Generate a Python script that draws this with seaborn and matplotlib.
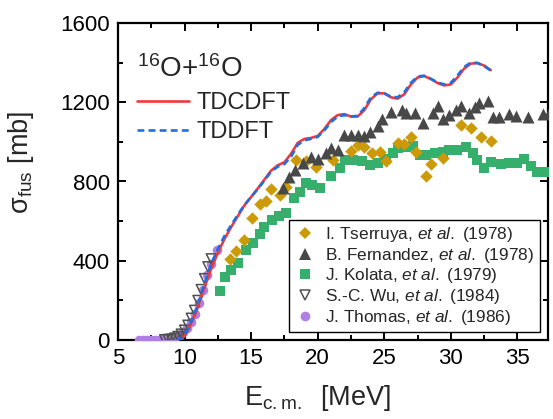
import matplotlib
matplotlib.use("Agg")
import matplotlib.pyplot as plt
import seaborn as sns
from matplotlib.lines import Line2D
from matplotlib.ticker import MultipleLocator

# ---------------- data ----------------
tdcdft_e = [9.5, 9.8, 10.0, 10.3, 10.6, 11.0, 11.5, 12.0, 12.5, 13.0, 13.5, 14.0, 14.5, 15.0,
            15.5, 16.0, 16.5, 17.0, 17.5, 18.0, 18.5, 19.0, 19.5, 20.0, 20.5, 21.0, 21.5,
            22.0, 22.5, 23.0, 23.5, 24.0, 24.5, 25.0, 25.5, 26.0, 26.5, 27.0, 27.5, 28.0,
            28.5, 29.0, 29.5, 30.0, 30.5, 31.0, 31.5, 32.0, 32.5, 33.0]
tdcdft_s = [0, 5, 20, 55, 100, 170, 265, 360, 440, 510, 570, 625, 680, 722,
            765, 810, 855, 882, 897, 940, 995, 1015, 1020, 1030, 1065, 1110, 1135,
            1140, 1128, 1128, 1160, 1215, 1245, 1245, 1225, 1218, 1240, 1290, 1325, 1332,
            1318, 1297, 1285, 1290, 1325, 1370, 1395, 1398, 1385, 1362]
tddft_e = [9.4, 9.7, 10.0, 10.3, 10.6, 11.0, 11.5, 12.0, 12.5, 13.0, 13.5, 14.0, 14.5, 15.0,
           15.5, 16.0, 16.5, 17.0, 17.5, 18.0, 18.5, 19.0, 19.5, 20.0, 20.5, 21.0, 21.5,
           22.0, 22.5, 23.0, 23.5, 24.0, 24.5, 25.0, 25.5, 26.0, 26.5, 27.0, 27.5, 28.0,
           28.5, 29.0, 29.5, 30.0, 30.5, 31.0, 31.5, 32.0, 32.5, 33.0]
tddft_s = [0, 6, 24, 62, 110, 180, 285, 385, 460, 525, 580, 632, 682, 722,
           762, 805, 850, 875, 888, 925, 985, 1008, 1015, 1025, 1058, 1100, 1128,
           1135, 1128, 1132, 1170, 1225, 1248, 1245, 1228, 1225, 1250, 1298, 1330, 1334,
           1318, 1300, 1290, 1298, 1335, 1378, 1400, 1398, 1383, 1360]

tserruya_e = [13.4, 13.9, 14.5, 15.05, 15.65, 16.15, 16.5, 17.15, 17.65, 18.4, 19.15, 19.9,
              21.15, 22.5, 23.0, 23.5, 24.05, 24.65, 25.1, 26.0, 26.5, 27.0, 27.4, 28.1,
              28.5, 29.4, 30.8, 31.5, 32.3, 33.05]
tserruya_s = [410, 450, 505, 615, 685, 700, 763, 730, 774, 909, 905, 875,
              906, 955, 983, 976, 943, 948, 905, 995, 988, 1027, 950, 829,
              890, 917, 1083, 1070, 1025, 1002]

fernandez_e = [17.4, 17.85, 18.3, 18.9, 19.5, 20.0, 20.65, 21.0, 21.5, 22.0, 22.5, 23.0, 23.5,
               23.9, 24.5, 24.8, 25.5, 26.3, 26.65, 27.3, 27.9, 28.65, 29.0, 29.4, 29.9,
               30.4, 30.8, 31.4, 31.8, 32.15, 32.8, 33.15, 33.65, 34.4, 34.9, 35.8, 36.9, 37.4]
fernandez_s = [766, 821, 858, 892, 926, 912, 942, 968, 959, 1035, 1035, 1035, 1030,
               1052, 1080, 1114, 1150, 1161, 1145, 1145, 1094, 1145, 1181, 1114, 1136,
               1161, 1181, 1148, 1178, 1195, 1207, 1128, 1124, 1141, 1131, 1124, 1141, 1145]

kolata_e = [12.65, 13.0, 13.5, 14.0, 14.65, 15.15, 15.7, 16.0, 16.6, 17.1, 17.6, 18.25, 18.7,
            19.1, 19.6, 20.15, 21.0, 21.65, 22.05, 22.65, 23.3, 23.9, 24.5, 25.15, 25.65,
            26.0, 26.65, 27.15, 27.65, 28.15, 28.8, 29.4, 29.9, 30.5, 31.15, 31.65, 32.0,
            32.5, 33.0, 33.8, 34.4, 35.0, 35.5, 36.0, 36.5, 37.15]
kolata_s = [249, 316, 353, 387, 454, 488, 535, 572, 606, 628, 643, 716, 746,
            791, 780, 768, 826, 870, 909, 909, 905, 884, 892, 912, 946,
            968, 976, 981, 934, 934, 942, 951, 959, 959, 976, 942, 909,
            867, 900, 889, 895, 892, 912, 878, 850, 850]

wu_e = [8.5, 8.75, 9.0, 9.25, 9.5, 9.75, 10.0, 10.25, 10.5, 10.75, 11.0, 11.25, 11.5, 11.75, 12.0]
wu_s = [2, 3, 5, 10, 18, 30, 50, 75, 110, 150, 200, 255, 310, 370, 410]

thomas_e = [6.6, 6.9, 7.2, 7.5, 7.8, 8.1, 8.4, 8.7, 9.0, 9.3, 9.6, 9.9, 10.2, 10.5, 10.8,
            11.1, 11.4, 11.7, 12.0, 12.4]
thomas_s = [0, 0, 1, 1, 1, 2, 3, 5, 8, 14, 24, 40, 62, 92, 130,
            185, 250, 330, 385, 455]

x_ticks = [5, 10, 15, 20, 25, 30, 35]
y_ticks = [0, 400, 800, 1200, 1600]

# ---------------- style ----------------
sns.set_style("ticks")
plt.rcParams['font.family'] = ['Liberation Sans', 'DejaVu Sans']
plt.rcParams['mathtext.fontset'] = 'custom'
plt.rcParams['mathtext.rm'] = 'Liberation Sans'
plt.rcParams['mathtext.it'] = 'Liberation Sans:italic'
plt.rcParams['mathtext.bf'] = 'Liberation Sans:bold'

RED = '#f0393c'
BLUE = '#1f6fe0'
GOLD = '#cc9a06'
GRAY = '#484848'
GREEN = '#36ae6c'
PURPLE = '#b07fe3'

fig = plt.figure(figsize=(5.53, 4.19), dpi=100)
ax = fig.add_axes([118/553, 79/419, 430/553, 317/419])

sns.scatterplot(x=thomas_e, y=thomas_s, ax=ax, marker='o', s=48, color=PURPLE,
                linewidth=0, legend=False, zorder=3)
sns.scatterplot(x=wu_e, y=wu_s, ax=ax, marker='v', s=50, facecolor='none',
                edgecolor='#505050', linewidth=1.1, legend=False, zorder=4)
sns.scatterplot(x=kolata_e, y=kolata_s, ax=ax, marker='s', s=55, color=GREEN,
                linewidth=0, legend=False, zorder=3)
sns.scatterplot(x=tserruya_e, y=tserruya_s, ax=ax, marker='D', s=40, color=GOLD,
                linewidth=0, legend=False, zorder=3)
sns.scatterplot(x=fernandez_e, y=fernandez_s, ax=ax, marker='^', s=75, color=GRAY,
                linewidth=0, legend=False, zorder=3)

sns.lineplot(x=tdcdft_e, y=tdcdft_s, ax=ax, color=RED, lw=1.9, zorder=5)
sns.lineplot(x=tddft_e, y=tddft_s, ax=ax, color=BLUE, lw=1.9,
             linestyle=(0, (2.6, 1.6)), zorder=6)

ax.set_xlim(5, 37.3)
ax.set_ylim(0, 1600)
ax.set_xticks(x_ticks)
ax.set_yticks(y_ticks)
ax.xaxis.set_minor_locator(MultipleLocator(2.5))
ax.yaxis.set_minor_locator(MultipleLocator(200))
ax.tick_params(which='both', direction='in', top=True, right=True, width=1.4,
               labelsize=16, colors='black')
ax.tick_params(which='major', length=6, pad=6)
ax.tick_params(which='minor', length=3.5)
for sp in ax.spines.values():
    sp.set_linewidth(1.6)
    sp.set_color('black')

ax.set_xlabel(r"E$_{\rm c.m.}$  [MeV]", fontsize=19.5)
ax.set_ylabel(r"σ$_{\rm fus}$ [mb]", fontsize=19.5)
ax.xaxis.set_label_coords(0.465, -0.135)
ax.yaxis.set_label_coords(-0.19, 0.56)

ax.text(0.044, 0.83, r"$^{16}$O+$^{16}$O", transform=ax.transAxes, fontsize=20,
        va='baseline', ha='left')

h1 = [Line2D([], [], color=RED, lw=1.9),
      Line2D([], [], color=BLUE, lw=1.9, linestyle=(0, (2.6, 1.6)))]
leg1 = ax.legend(h1, ['TDCDFT', 'TDDFT'], loc='upper left', bbox_to_anchor=(0.045, 0.782),
                 frameon=False, fontsize=17, handlelength=2.2, handletextpad=0.3,
                 labelspacing=0.3, borderpad=0, borderaxespad=0)
ax.add_artist(leg1)

h2 = [Line2D([], [], ls='', marker='D', ms=6.5, color=GOLD, mew=0),
      Line2D([], [], ls='', marker='^', ms=8, color=GRAY, mew=0),
      Line2D([], [], ls='', marker='s', ms=7, color=GREEN, mew=0),
      Line2D([], [], ls='', marker='v', ms=7, mfc='none', mec='#505050', mew=1.1),
      Line2D([], [], ls='', marker='o', ms=7, color=PURPLE, mew=0)]
labels2 = [r"I. Tserruya, $\it{et\ al.}$ (1978)",
           r"B. Fernandez, $\it{et\ al.}$ (1978)",
           r"J. Kolata, $\it{et\ al.}$ (1979)",
           r"S.-C. Wu, $\it{et\ al.}$ (1984)",
           r"J. Thomas, $\it{et\ al.}$ (1986)"]
leg2 = ax.legend(h2, labels2, loc='upper left', bbox_to_anchor=(0.398, 0.379),
                 fontsize=12.4, frameon=True, fancybox=False, edgecolor='black',
                 framealpha=1, handlelength=1.2, handletextpad=0.6, labelspacing=0.1,
                 borderpad=0.3, borderaxespad=0)
leg2.get_frame().set_linewidth(1.0)

fig.savefig("out.png", dpi=100)
